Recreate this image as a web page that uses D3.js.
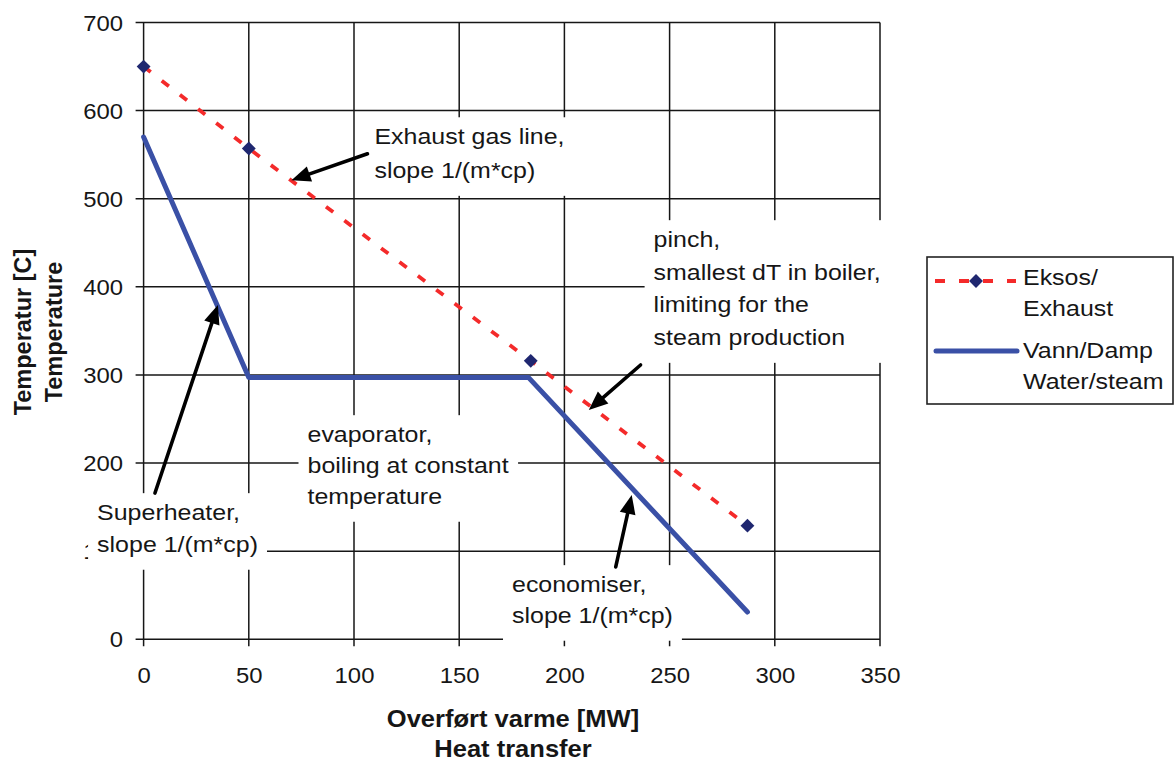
<!DOCTYPE html>
<html>
<head>
<meta charset="utf-8">
<script src="https://cdn.jsdelivr.net/npm/d3@7/dist/d3.min.js"></script>
<style>
  html, body { margin: 0; padding: 0; background: #fff; }
  svg { display: block; font-family: "Liberation Sans", Arial, sans-serif; }
</style>
</head>
<body>
<svg id="chart" width="1174" height="764"></svg>
<script>
// Heat transferred [MW] vs temperature [C] in a heat recovery steam generator
const exhaustQ = [0, 50, 184, 287];
const exhaustT = [650, 557, 316, 129];
const waterQ = [0, 50, 183, 287];
const waterT = [570, 297, 297, 31];

const xTicks = [0, 50, 100, 150, 200, 250, 300, 350];
const yTicks = [0, 100, 200, 300, 400, 500, 600, 700];

const legendNames = [["Eksos/", "Exhaust"], ["Vann/Damp", "Water/steam"]];
const xTitle = ["Overført varme [MW]", "Heat transfer"];
const yTitle = ["Temperatur [C]", "Temperature"];

// Annotation texts, anchored in data units (Q, T) at the first baseline
const notes = [
  { lines: ["Exhaust gas line,", "slope 1/(m*cp)"], at: [109.7, 562], gap: 34 },
  { lines: ["Superheater,", "slope 1/(m*cp)"], at: [-22.1, 135.4], gap: 32 },
  { lines: ["evaporator,", "boiling at constant", "temperature"], at: [77.9, 223.9], gap: 31 },
  { lines: ["pinch,", "smallest dT in boiler,", "limiting for the", "steam production"], at: [242.4, 445.2], gap: 32.7 },
  { lines: ["economiser,", "slope 1/(m*cp)"], at: [175.1, 53.7], gap: 31 }
];
// Arrows: tail -> tip, in data units
const arrows = [
  { from: [106.4, 551], to: [70.3, 521] },
  { from: [5.4, 166], to: [35.3, 379.4] },
  { from: [236.2, 311.3], to: [211.6, 260.2] },
  { from: [224.4, 82.1], to: [232, 163.8] }
];

const SX = 1.11; // horizontal text stretch
const svg = d3.select("#chart");
const x = d3.scaleLinear().domain([0, 350]).range([143.6, 880]);
const y = d3.scaleLinear().domain([0, 700]).range([639.3, 22.5]);
const ink = "#161616";

// Gridlines
const grid = svg.append("g").attr("stroke", ink).attr("stroke-width", 1.5);
grid.selectAll("line.h").data(yTicks).join("line").attr("class", "h")
  .attr("x1", x(0) - 8).attr("x2", x(350))
  .attr("y1", d => y(d)).attr("y2", d => y(d));
grid.selectAll("line.v").data(xTicks).join("line").attr("class", "v")
  .attr("x1", d => x(d)).attr("x2", d => x(d))
  .attr("y1", y(700)).attr("y2", y(0) + 7);

// Axes (tick labels)
const yAxis = svg.append("g").attr("transform", `translate(${x(0)},0)`)
  .call(d3.axisLeft(y).tickValues(yTicks).tickSize(0).tickFormat(d3.format("d")));
yAxis.select(".domain").remove();
yAxis.selectAll("text")
  .attr("x", -20.6 / SX).attr("dy", "0.35em")
  .attr("transform", `scale(${SX},1)`)
  .attr("font-size", 21.5).attr("fill", ink)
  .attr("font-family", "Liberation Sans, Arial, sans-serif");

const xAxis = svg.append("g").attr("transform", `translate(0,${y(0)})`)
  .call(d3.axisBottom(x).tickValues(xTicks).tickSize(0).tickFormat(d3.format("d")));
xAxis.select(".domain").remove();
xAxis.selectAll(".tick text")
  .attr("y", 0).attr("dy", 0)
  .attr("transform", `translate(0,43.7) scale(${SX},1)`)
  .attr("font-size", 21.5).attr("fill", ink)
  .attr("font-family", "Liberation Sans, Arial, sans-serif");

// Helper: stretched text
function stext(g, str, px, py, size, anchor, weight) {
  return g.append("text")
    .attr("transform", `translate(${px},${py}) scale(${SX},1)`)
    .attr("text-anchor", anchor || "start")
    .attr("font-size", size)
    .attr("font-weight", weight || "normal")
    .attr("fill", ink)
    .text(str);
}

// Annotation boxes (white backgrounds hide the grid)
const noteLayer = svg.append("g");
notes.forEach(n => {
  const g = noteLayer.append("g");
  const bx = x(n.at[0]), by = y(n.at[1]);
  n.lines.forEach((s, i) => stext(g, s, bx, by + i * n.gap, 22.5));
  const bb = g.node().getBBox();
  g.insert("rect", ":first-child")
    .attr("x", bb.x - 9).attr("y", bb.y - 6)
    .attr("width", bb.width + 18).attr("height", bb.height + 19)
    .attr("fill", "#fff");
});

// Series lines
const lineGen = d3.line().x(d => x(d[0])).y(d => y(d[1]));
const waterPts = waterQ.map((q, i) => [q, waterT[i]]);
const exhaustPts = exhaustQ.map((q, i) => [q, exhaustT[i]]);

svg.append("path").datum(waterPts)
  .attr("d", lineGen).attr("fill", "none")
  .attr("stroke", "#3a50a6").attr("stroke-width", 5)
  .attr("stroke-linejoin", "round").attr("stroke-linecap", "round");

svg.append("path").datum(exhaustPts)
  .attr("d", lineGen).attr("fill", "none")
  .attr("stroke", "#f42a2a").attr("stroke-width", 3.8)
  .attr("stroke-dasharray", "9,14");

const diamond = d3.symbol().type(d3.symbolSquare).size(96);
svg.selectAll("path.mk").data(exhaustPts).join("path").attr("class", "mk")
  .attr("d", diamond)
  .attr("transform", d => `translate(${x(d[0])},${y(d[1])}) rotate(45)`)
  .attr("fill", "#1f2770");

// Arrows
function arrow(g, x1, y1, x2, y2) {
  const dx = x2 - x1, dy = y2 - y1, L = Math.hypot(dx, dy);
  const ux = dx / L, uy = dy / L, hl = 19, hw = 8;
  const bxp = x2 - ux * hl, byp = y2 - uy * hl;
  g.append("line").attr("x1", x1).attr("y1", y1).attr("x2", bxp + ux * 2).attr("y2", byp + uy * 2)
    .attr("stroke", "#000").attr("stroke-width", 3.6).attr("stroke-linecap", "round");
  g.append("path")
    .attr("d", `M${x2},${y2}L${bxp - uy * hw},${byp + ux * hw}L${bxp + uy * hw},${byp - ux * hw}Z`)
    .attr("fill", "#000");
}
const arrowLayer = svg.append("g");
arrows.forEach(a => arrow(arrowLayer, x(a.from[0]), y(a.from[1]), x(a.to[0]), y(a.to[1])));

// Axis titles
const xt = svg.append("g");
stext(xt, xTitle[0], 513, 727, 23, "middle", "bold");
stext(xt, xTitle[1], 513, 757, 23, "middle", "bold");
const yt = svg.append("g");
yTitle.forEach((s, i) => {
  yt.append("text")
    .attr("transform", `translate(${31 + i * 31},332) rotate(-90)`)
    .attr("text-anchor", "middle")
    .attr("font-size", 23.5).attr("font-weight", "bold").attr("fill", ink)
    .text(s);
});

// Legend
const lg = svg.append("g");
lg.append("rect").attr("x", 927).attr("y", 257).attr("width", 246).attr("height", 147)
  .attr("fill", "#fff").attr("stroke", "#222").attr("stroke-width", 1.6);
lg.append("line").attr("x1", 935).attr("x2", 1016).attr("y1", 281).attr("y2", 281)
  .attr("stroke", "#f42a2a").attr("stroke-width", 3.8).attr("stroke-dasharray", "10,14");
lg.append("path").attr("d", diamond)
  .attr("transform", "translate(976,281) rotate(45)").attr("fill", "#1f2770");
lg.append("line").attr("x1", 936).attr("x2", 1017).attr("y1", 351).attr("y2", 351)
  .attr("stroke", "#3a50a6").attr("stroke-width", 5).attr("stroke-linecap", "round");
stext(lg, legendNames[0][0], 1023, 285, 22.5);
stext(lg, legendNames[0][1], 1023, 316, 22.5);
stext(lg, legendNames[1][0], 1023, 358, 22.5);
stext(lg, legendNames[1][1], 1023, 389, 22.5);
</script>
</body>
</html>
